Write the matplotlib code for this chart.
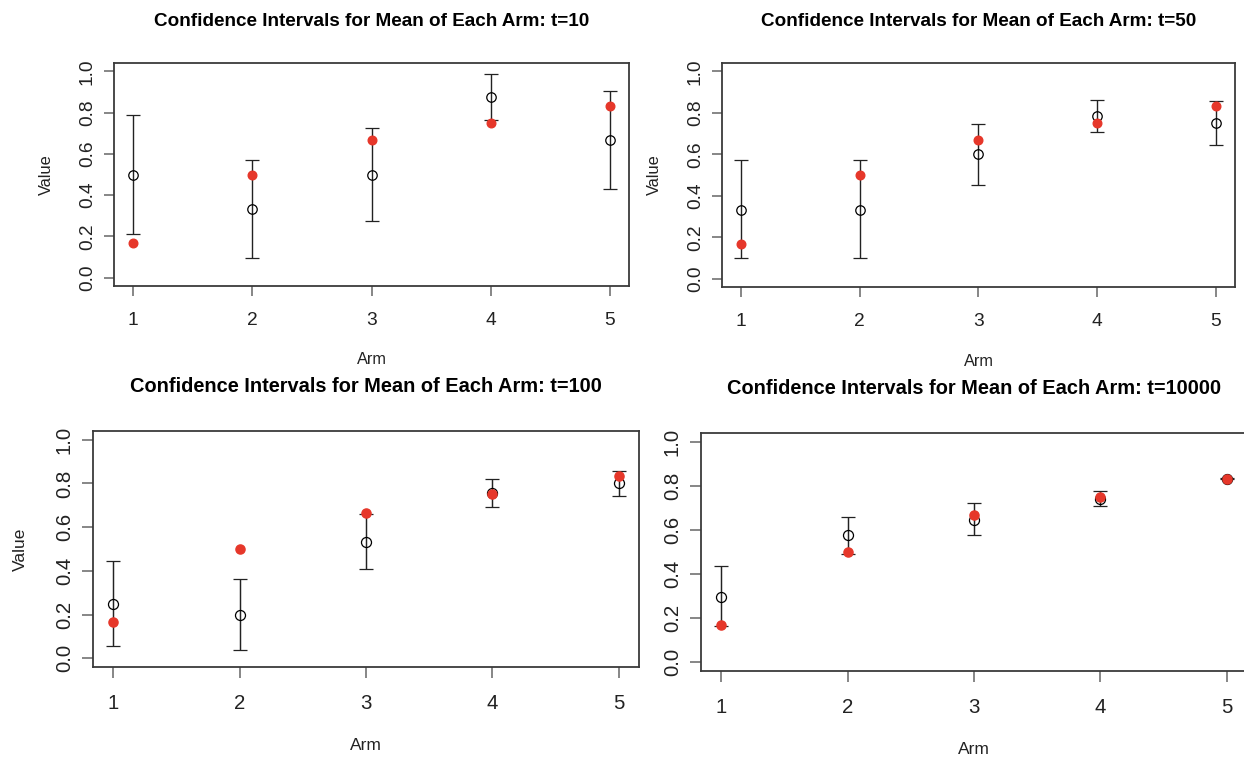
import matplotlib
matplotlib.use("Agg")
import matplotlib.pyplot as plt

plt.rcParams["font.family"] = ["Liberation Sans", "DejaVu Sans"]

arms = [1, 2, 3, 4, 5]
true_means = [0.167, 0.5, 0.667, 0.75, 0.833]

t10_mean = [0.5, 0.333, 0.5, 0.875, 0.667]
t10_lo = [0.21, 0.097, 0.276, 0.765, 0.429]
t10_hi = [0.787, 0.568, 0.724, 0.985, 0.903]

t50_mean = [0.333, 0.333, 0.6, 0.786, 0.75]
t50_lo = [0.098, 0.098, 0.453, 0.709, 0.645]
t50_hi = [0.57, 0.57, 0.748, 0.864, 0.857]

t100_mean = [0.25, 0.2, 0.533, 0.758, 0.8]
t100_lo = [0.057, 0.036, 0.408, 0.691, 0.741]
t100_hi = [0.443, 0.363, 0.658, 0.821, 0.859]

t10000_mean = [0.298, 0.575, 0.646, 0.74, 0.832]
t10000_lo = [0.163, 0.49, 0.575, 0.707, 0.829]
t10000_hi = [0.437, 0.661, 0.723, 0.776, 0.837]

W, H = 1244, 757
fig = plt.figure(figsize=(W / 100, H / 100), dpi=100)
fig.patch.set_facecolor("white")

EDGE = "#3a3a3a"
RED = "#e6372a"


def panel(box, t, mean, lo, hi, scale, ylabel=True):
    left, top, right, bottom = box
    ax = fig.add_axes([left / W, 1 - bottom / H, (right - left) / W, (bottom - top) / H])
    err = [[m - l for m, l in zip(mean, lo)], [h - m for m, h in zip(mean, hi)]]
    ax.errorbar(arms, mean, yerr=err, fmt="o", mfc="none", mec="black",
                ms=6.8 * scale, mew=0.9, ecolor="#222222", elinewidth=1.0 * scale,
                capsize=5.0 * scale, capthick=1.0 * scale, zorder=2)
    ax.plot(arms, true_means, "o", color=RED, ms=6.2 * scale, mec=RED, zorder=3)
    ax.set_xlim(0.84, 5.16)
    ax.set_ylim(-0.04, 1.04)
    ax.set_xticks(arms)
    ax.set_yticks([0.0, 0.2, 0.4, 0.6, 0.8, 1.0])
    ax.set_yticklabels(["0.0", "0.2", "0.4", "0.6", "0.8", "1.0"], rotation=90, va="center")
    for s in ax.spines.values():
        s.set_color(EDGE)
        s.set_linewidth(1.3)
    ax.tick_params(axis="both", length=7.5 * scale, width=1.1, color="#666666",
                   labelsize=13.8 * scale, labelcolor="#222222")
    ax.tick_params(axis="x", pad=11.0 * scale)
    ax.tick_params(axis="y", pad=5.5 * scale)
    cx = (left + right) / 2
    fig.text(cx / W, 1 - (top - 42 * scale) / H,
             f"Confidence Intervals for Mean of Each Arm: t={t}",
             ha="center", va="center", fontsize=13.6 * scale, fontweight="bold")
    fig.text(cx / W, 1 - (bottom + 74 * scale) / H, "Arm",
             ha="center", va="center", fontsize=11.8 * scale, color="#222222")
    if ylabel:
        fig.text((left - 68 * scale) / W, 1 - ((top + bottom) / 2) / H, "Value",
                 ha="center", va="center", rotation=90, fontsize=11.8 * scale,
                 color="#222222")
    return ax


panel((114, 63, 629, 286), 10, t10_mean, t10_lo, t10_hi, 1.0)
panel((722, 63, 1235, 287), 50, t50_mean, t50_lo, t50_hi, 1.0)
panel((93, 431, 639, 667), 100, t100_mean, t100_lo, t100_hi, 1.06)
panel((701, 433, 1247, 671), 10000, t10000_mean, t10000_lo, t10000_hi, 1.06, ylabel=False)

fig.savefig("out.png", dpi=100)
